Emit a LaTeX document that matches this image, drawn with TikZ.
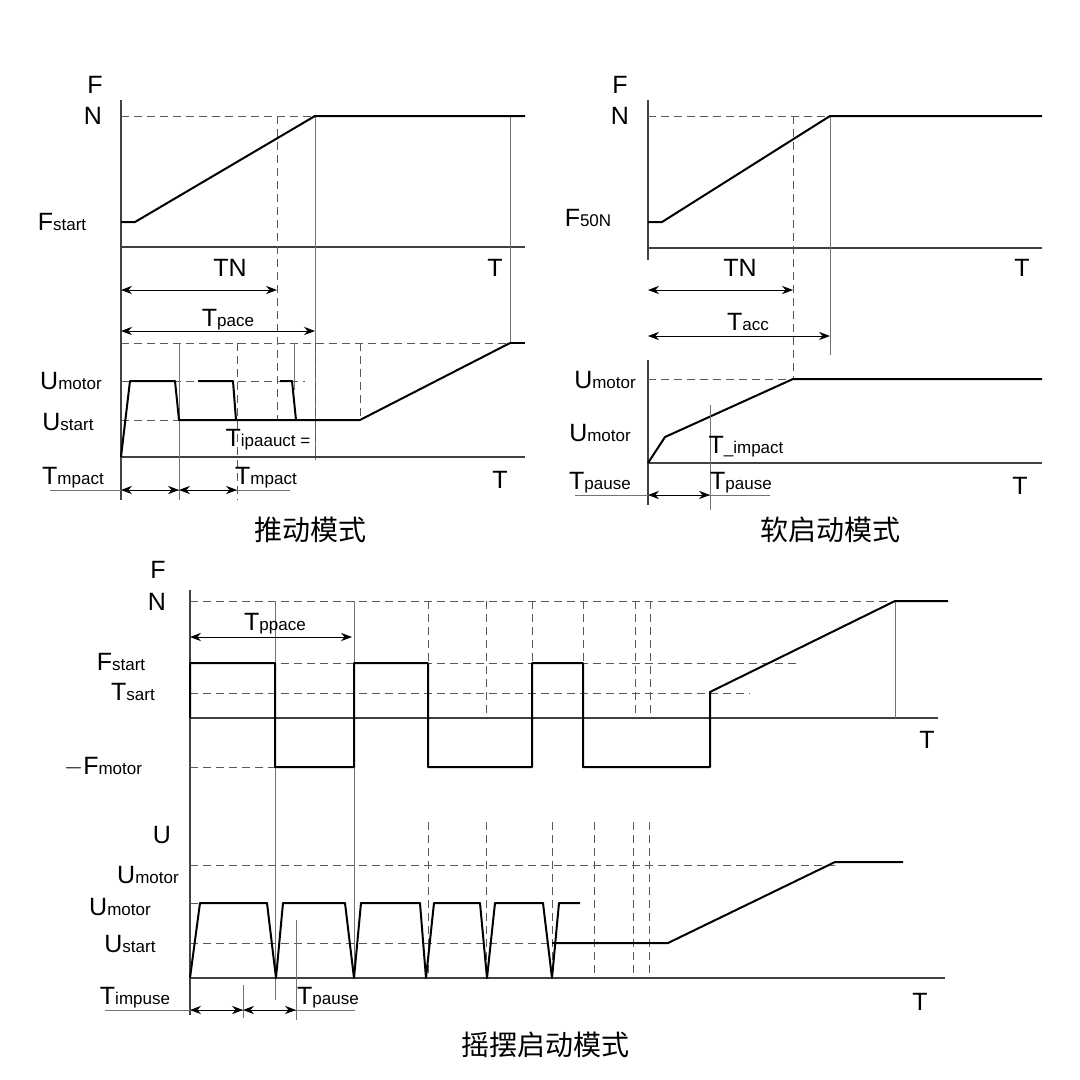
\documentclass[tikz,border=0pt]{standalone}
\usepackage{fontspec}
\setmainfont{Liberation Sans}
\newfontfamily\cjk{Noto Sans CJK SC}
\usetikzlibrary{positioning,arrows.meta}
\newcommand{\lb}[2]{#1{\fontsize{17}{17}\selectfont #2}}

\begin{document}
\begin{tikzpicture}[x=1pt,y=-1pt,
  every node/.style={font=\fontsize{25}{25}\selectfont, inner sep=1pt},
  axis/.style={draw=black!75, line width=1.1pt},
  thin/.style={draw=black!55, line width=0.8pt},
  dsh/.style={draw=black!65, line width=0.9pt, dash pattern=on 8pt off 5pt},
  wave/.style={draw=black, line width=2pt, line join=round},
  dim/.style={draw=black, line width=1pt, {Stealth[length=11pt]}-{Stealth[length=11pt]}},
  title/.style={font=\cjk\fontsize{28}{28}\selectfont}]
\useasboundingbox (0,0) rectangle (1080,1080);

%push mode: force
\draw[axis] (121,100) -- (121,500);
\draw[axis] (121,247) -- (525,247);
\node (pF) at (95,85) {F};
\node (pN) at (93,116) {N};
\node (pFs) at (62,222) {\lb{F}{start}};
\node (pT) at (495,268) {T};
\draw[dsh] (121,116) -- (315,116);
\draw[dsh] (277,116) -- (277,420);
\draw[thin] (315,116) -- (315,460);
\draw[thin] (510,116) -- (510,343);
\draw[wave] (121,222) -- (135,222) -- (315,116) -- (525,116);
\node (pTN) at (230,268) {TN};
\draw[dim] (121,290) -- (277,290);
\node (pTp) at (228,320) {\lb{T}{pace}};
\draw[dim] (121,331) -- (315,331);

%push mode: voltage
\draw[dsh] (121,343) -- (510,343);
\draw[wave] (510,343) -- (525,343);
\draw[axis] (121,457) -- (525,457);
\draw[dsh] (121,381) -- (305,381);
\draw[dsh] (121,420) -- (179,420);
\draw[thin] (179,343) -- (179,500);
\draw[dsh] (237,343) -- (237,500);
\draw[thin] (294,343) -- (294,390);
\draw[dsh] (315,343) -- (315,460);
\draw[dsh] (360,343) -- (360,420);
\draw[wave] (121,457) -- (130,381) -- (175,381) -- (179,420) -- (360,420) -- (510,343);
\draw[wave] (198,381) -- (233,381) -- (236,420);
\draw[wave] (280,381) -- (292,381) -- (296,420);
\node (pUm) at (71,381) {\lb{U}{motor}};
\node (pUs) at (68,422) {\lb{U}{start}};
\node (pTi) at (268,440) {\lb{T}{ipaauct =}};
\node (pT2) at (500,480) {T};
\node (pTm1) at (73,478) {\lb{T}{mpact}};
\node (pTm2) at (266,478) {\lb{T}{mpact}};
\draw[thin] (50,490) -- (290,490);
\draw[dim] (121,490) -- (179,490);
\draw[dim] (179,490) -- (237,490);
\node[title] (pTitle) at (310,530) {推动模式};

%soft start: force
\draw[axis] (648,100) -- (648,260);
\draw[axis] (648,248) -- (1042,248);
\node (sF) at (620,85) {F};
\node (sN) at (620,116) {N};
\node (sF50) at (588,218) {\lb{F}{50N}};
\node (sT) at (1022,268) {T};
\draw[dsh] (648,116) -- (830,116);
\draw[dsh] (793,116) -- (793,380);
\draw[thin] (830,116) -- (830,355);
\draw[wave] (648,222) -- (662,222) -- (830,116) -- (1042,116);
\node (sTN) at (740,268) {TN};
\draw[dim] (648,290) -- (793,290);
\node (sTa) at (748,322) {\lb{T}{acc}};
\draw[dim] (648,336) -- (830,336);

%soft start: voltage
\draw[axis] (648,360) -- (648,505);
\draw[axis] (648,463) -- (1042,463);
\draw[dsh] (648,379) -- (793,379);
\draw[wave] (648,463) -- (665,437) -- (793,379) -- (1042,379);
\draw[thin] (710,405) -- (710,510);
\node (sUm1) at (605,380) {\lb{U}{motor}};
\node (sUm2) at (600,433) {\lb{U}{motor}};
\node (sTi) at (746,447) {\lb{T}{\_impact}};
\node (sTp1) at (600,483) {\lb{T}{pause}};
\node (sTp2) at (741,483) {\lb{T}{pause}};
\node (sT2) at (1020,486) {T};
\draw[thin] (575,495) -- (770,495);
\draw[dim] (648,495) -- (710,495);
\node[title] (sTitle) at (830,530) {软启动模式};

%swing start: force
\draw[axis] (190,590) -- (190,1015);
\draw[axis] (190,718) -- (938,718);
\node (wF) at (158,570) {F};
\node (wN) at (157,602) {N};
\node (wFs) at (121,662) {\lb{F}{start}};
\node (wTs) at (133,692) {\lb{T}{sart}};
\node (wFm) at (103,767) {\lb{$-$F}{motor}};
\node (wT) at (927,740) {T};
\draw[dsh] (190,601) -- (895,601);
\draw[dsh] (190,663) -- (800,663);
\draw[dsh] (190,693) -- (750,693);
\draw[dsh] (190,767) -- (275,767);
\draw[thin] (275,601) -- (275,1000);
\draw[thin] (354,601) -- (354,978);
\foreach \x in {428,486,532,583,635,650}
  \draw[dsh] (\x,601) -- (\x,718);
\draw[thin] (895,601) -- (895,718);
\draw[wave] (190,718) -- (190,663) -- (275,663) -- (275,767) -- (354,767) -- (354,663)
  -- (428,663) -- (428,767) -- (532,767) -- (532,663) -- (583,663) -- (583,767)
  -- (710,767) -- (710,692) -- (895,601) -- (948,601);
\node (wTp) at (275,624) {\lb{T}{ppace}};
\draw[dim] (190,637) -- (352,637);

%swing start: voltage
\foreach \x in {428,486,552,594,633,649}
  \draw[dsh] (\x,822) -- (\x,978);
\draw[axis] (190,978) -- (945,978);
\draw[dsh] (190,865) -- (835,865);
\draw[dsh] (190,903) -- (200,903);
\draw[dsh] (190,943) -- (552,943);
\draw[wave] (190,978) -- (200,903) -- (267,903) -- (276,978) -- (283,903) -- (345,903)
  -- (354,978) -- (361,903) -- (420,903) -- (426,978) -- (434,903) -- (480,903)
  -- (487,978) -- (495,903) -- (543,903) -- (552,978) -- (559,903) -- (580,903);
\draw[wave] (552,943) -- (668,943) -- (835,862) -- (903,862);
\draw[thin] (296,920) -- (296,1020);
\draw[thin] (243,985) -- (243,1018);
\node (wU) at (162,835) {U};
\node (wUm1) at (148,875) {\lb{U}{motor}};
\node (wUm2) at (120,907) {\lb{U}{motor}};
\node (wUs) at (130,944) {\lb{U}{start}};
\node (wTi) at (135,998) {\lb{T}{impuse}};
\node (wTp2) at (328,998) {\lb{T}{pause}};
\node (wT2) at (920,1002) {T};
\draw[thin] (105,1010) -- (355,1010);
\draw[dim] (190,1010) -- (243,1010);
\draw[dim] (243,1010) -- (296,1010);
\node[title] (wTitle) at (545,1045) {摇摆启动模式};
\end{tikzpicture}
\end{document}
